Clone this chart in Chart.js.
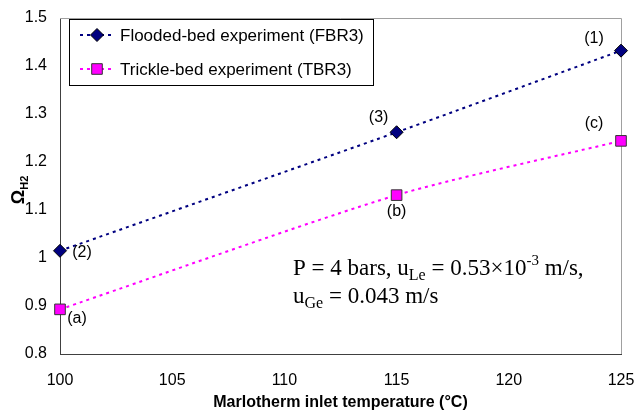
<!DOCTYPE html>
<html>
<head>
<meta charset="utf-8">
<script src="https://cdn.jsdelivr.net/npm/chart.js@4/dist/chart.umd.min.js"></script>
<style>
  html, body { margin: 0; padding: 0; background: #fff; }
  #wrap { width: 637px; height: 414px; position: relative; }
</style>
</head>
<body>
<div id="wrap"><canvas id="chart"></canvas></div>
<script>
// dados
const temps = [100, 115, 125];
const floodedBed = [1.015, 1.262, 1.432];
const trickleBed = [0.893, 1.131, 1.244];
const floodedTags = ['(2)', '(3)', '(1)'];
const trickleTags = ['(a)', '(b)', '(c)'];
const seriesNames = ['Flooded-bed experiment (FBR3)', 'Trickle-bed experiment (TBR3)'];
const xTicks = [100, 105, 110, 115, 120, 125];
const yTicks = [0.8, 0.9, 1.0, 1.1, 1.2, 1.3, 1.4, 1.5];

const sansFont = '"Liberation Sans", Arial, sans-serif';
const serifFont = '"Liberation Serif", "Times New Roman", serif';

// deslocamento dos rótulos (1), (a)... em relação ao ponto
const tagOffsets = [
  [[22, 2], [-18, -15], [-27, -12]],
  [[17, 9], [0, 16], [-27, -17]]
];

const extras = {
  id: 'extras',
  beforeDatasetsDraw(chart) {
    const { ctx, chartArea: a } = chart;
    ctx.save();
    ctx.strokeStyle = '#a0a0a0';
    ctx.lineWidth = 1;
    ctx.beginPath();
    ctx.moveTo(a.left, a.top + 0.5);
    ctx.lineTo(a.right + 0.5, a.top + 0.5);
    ctx.lineTo(a.right + 0.5, a.bottom);
    ctx.stroke();
    ctx.restore();
  },
  afterDraw(chart) {
    const { ctx, chartArea: a, scales } = chart;
    const xs = scales.x, ys = scales.y;
    ctx.save();

    // rótulos dos pontos
    ctx.fillStyle = '#000';
    ctx.font = '16px ' + sansFont;
    ctx.textAlign = 'center';
    ctx.textBaseline = 'middle';
    [floodedBed, trickleBed].forEach((vals, s) => {
      const tags = s === 0 ? floodedTags : trickleTags;
      vals.forEach((v, i) => {
        const px = xs.getPixelForValue(temps[i]);
        const py = ys.getPixelForValue(v);
        ctx.fillText(tags[i], px + tagOffsets[s][i][0], py + tagOffsets[s][i][1]);
      });
    });

    // legenda
    const lx = 69, ly = 19, lw = 304, lh = 66;
    ctx.fillStyle = '#fff';
    ctx.fillRect(lx, ly, lw, lh);
    ctx.strokeStyle = '#000';
    ctx.lineWidth = 1;
    ctx.strokeRect(lx + 0.5, ly + 0.5, lw, lh);
    chart.data.datasets.forEach((ds, i) => {
      const y = ly + 16 + i * 34;
      ctx.save();
      ctx.strokeStyle = ds.borderColor;
      ctx.lineWidth = 2;
      ctx.setLineDash(ds.borderDash);
      ctx.beginPath();
      ctx.moveTo(80, y);
      ctx.lineTo(115, y);
      ctx.stroke();
      ctx.restore();
      ctx.fillStyle = ds.pointBackgroundColor;
      ctx.strokeStyle = ds.pointBorderColor;
      ctx.lineWidth = 1;
      Chart.helpers.drawPoint(ctx, { pointStyle: ds.pointStyle, radius: ds.pointRadius, borderWidth: 1 }, 97, y);
      ctx.fillStyle = '#000';
      ctx.font = '17px ' + sansFont;
      ctx.textAlign = 'left';
      ctx.textBaseline = 'middle';
      ctx.fillText(seriesNames[i], 120, y + 1);
    });

    // texto das condições
    const run = (parts, x, y) => {
      ctx.textAlign = 'left';
      ctx.textBaseline = 'alphabetic';
      parts.forEach(([t, kind]) => {
        let size = 23, dy = 0;
        if (kind === 'sub') { size = 16; dy = 5; }
        if (kind === 'sup') { size = 15; dy = -10; }
        ctx.font = size + 'px ' + serifFont;
        ctx.fillText(t, x, y + dy);
        x += ctx.measureText(t).width;
      });
    };
    ctx.fillStyle = '#000';
    run([['P = 4 bars, u', ''], ['Le', 'sub'], [' = 0.53\u00d710', ''], ['-3', 'sup'], [' m/s,', '']], 293, 275);
    run([['u', ''], ['Ge', 'sub'], [' = 0.043 m/s', '']], 293, 303);

    // título do eixo x
    ctx.font = 'bold 16px ' + sansFont;
    ctx.textAlign = 'center';
    ctx.textBaseline = 'middle';
    ctx.fillText('Marlotherm inlet temperature (\u00b0C)', (a.left + a.right) / 2, 403);

    // título do eixo y (rodado)
    ctx.translate(18, (a.top + a.bottom) / 2 + 4);
    ctx.rotate(-Math.PI / 2);
    ctx.textAlign = 'left';
    ctx.textBaseline = 'alphabetic';
    ctx.font = 'bold 18px ' + sansFont;
    const w1 = ctx.measureText('\u03a9').width;
    ctx.font = 'bold 11px ' + sansFont;
    const w2 = ctx.measureText('H2').width;
    const x0 = -(w1 + w2) / 2;
    ctx.font = 'bold 18px ' + sansFont;
    ctx.fillText('\u03a9', x0, 6);
    ctx.font = 'bold 11px ' + sansFont;
    ctx.fillText('H2', x0 + w1, 10);
    ctx.restore();
  }
};

new Chart(document.getElementById('chart'), {
  type: 'line',
  data: {
    datasets: [
      {
        label: seriesNames[0],
        data: temps.map((t, i) => ({ x: t, y: floodedBed[i] })),
        borderColor: '#000080',
        borderWidth: 2,
        borderDash: [3, 4],
        pointStyle: 'rectRot',
        pointRadius: 6.5,
        pointBackgroundColor: '#000080',
        pointBorderColor: '#000000',
        pointBorderWidth: 1,
        tension: 0.25,
        clip: false
      },
      {
        label: seriesNames[1],
        data: temps.map((t, i) => ({ x: t, y: trickleBed[i] })),
        borderColor: '#ff00ff',
        borderWidth: 2,
        borderDash: [3, 4],
        pointStyle: 'rect',
        pointRadius: 7.5,
        pointBackgroundColor: '#ff00ff',
        pointBorderColor: '#333333',
        pointBorderWidth: 1,
        tension: 0.25,
        clip: false
      }
    ]
  },
  options: {
    responsive: true,
    maintainAspectRatio: false,
    animation: false,
    layout: { padding: { top: 18, right: 16, left: 0, bottom: 0 } },
    plugins: { legend: { display: false }, tooltip: { enabled: false } },
    scales: {
      x: {
        type: 'linear',
        min: xTicks[0],
        max: xTicks[xTicks.length - 1],
        afterBuildTicks: s => { s.ticks = xTicks.map(v => ({ value: v })); },
        afterFit: s => { s.height = 60; s.paddingLeft = 0; s.paddingRight = 0; },
        grid: { display: false, drawTicks: true, tickLength: 5, tickColor: '#404040' },
        border: { display: true, color: '#404040', width: 1 },
        ticks: { color: '#000', font: { family: sansFont, size: 16 }, padding: 12, maxRotation: 0 }
      },
      y: {
        type: 'linear',
        min: yTicks[0],
        max: yTicks[yTicks.length - 1],
        afterBuildTicks: s => { s.ticks = yTicks.map(v => ({ value: v })); },
        afterFit: s => { s.width = 60; s.paddingTop = 0; s.paddingBottom = 0; },
        grid: { display: false, drawTicks: true, tickLength: 5, tickColor: '#404040' },
        border: { display: true, color: '#404040', width: 1 },
        ticks: {
          color: '#000', font: { family: sansFont, size: 16 }, padding: 8,
          callback: v => (Math.round(v * 10) / 10).toString()
        }
      }
    }
  },
  plugins: [extras]
});
</script>
</body>
</html>
